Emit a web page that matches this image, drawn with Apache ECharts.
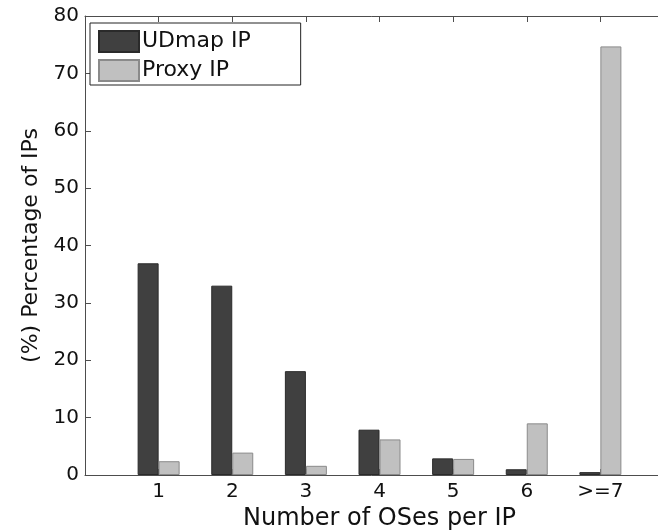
<!DOCTYPE html>
<html>
<head>
<meta charset="utf-8">
<script src="https://cdn.jsdelivr.net/npm/echarts@6/dist/echarts.min.js"></script>
<style>
html,body{margin:0;padding:0;background:#fff;}
#chart{width:658px;height:530px;}
</style>
</head>
<body>
<div id="chart"></div>
<script>
// Data
const categories = ['', '1', '2', '3', '4', '5', '6', '>=7', ''];
const udmapIP = [null, 36.9, 33.0, 18.1, 7.9, 2.9, 1.0, 0.5, null];
const proxyIP = [null, 2.4, 3.9, 1.6, 6.2, 2.8, 9.0, 74.7, null];
const yTicks = [0, 10, 20, 30, 40, 50, 60, 70, 80];

const FONT = 'DejaVu Sans';
const axisColor = '#4d4d4d';

const chart = echarts.init(document.getElementById('chart'), null, {renderer: 'canvas'});
chart.setOption({
  animation: false,
  backgroundColor: '#fff',
  grid: {left: 85, top: 16, width: 589, height: 459, containLabel: false, outerBoundsMode: 'none'},
  legend: {
    left: 90, top: 23,
    orient: 'vertical',
    itemWidth: 40, itemHeight: 21, itemGap: 6,
    padding: [7, 50, 3, 8],
    borderColor: '#222', borderWidth: 1,
    backgroundColor: '#fff',
    icon: 'rect',
    textStyle: {fontFamily: FONT, fontSize: 22, color: '#111', padding: [0, 0, 0, -2]},
    data: ['UDmap IP', 'Proxy IP']
  },
  xAxis: [
    {
      type: 'category', data: categories, boundaryGap: false, position: 'bottom',
      axisLine: {lineStyle: {color: axisColor, width: 1}},
      axisTick: {inside: true, length: 6, lineStyle: {color: axisColor}},
      axisLabel: {interval: 0, margin: 7, fontFamily: FONT, fontSize: 20, color: '#111'},
      name: 'Number of OSes per IP', nameLocation: 'middle', nameGap: 28,
      nameTextStyle: {fontFamily: FONT, fontSize: 24, color: '#111'},
      splitLine: {show: false}
    },
    {
      type: 'category', data: categories, boundaryGap: false, position: 'top',
      axisLine: {lineStyle: {color: axisColor, width: 1}},
      axisTick: {inside: true, length: 6, lineStyle: {color: axisColor}},
      axisLabel: {show: false}, splitLine: {show: false}
    }
  ],
  yAxis: {
    type: 'value', min: 0, max: 80, interval: 10, position: 'left',
    axisLine: {show: true, lineStyle: {color: axisColor, width: 1}},
    axisTick: {show: true, inside: true, length: 6, lineStyle: {color: axisColor}},
    axisLabel: {margin: 6, fontFamily: FONT, fontSize: 20, color: '#111',
      formatter: v => yTicks.indexOf(v) >= 0 ? String(v) : ''},
    splitLine: {show: false},
    name: '(%) Percentage of IPs', nameLocation: 'middle', nameGap: 42, nameRotate: 90,
    nameTextStyle: {fontFamily: FONT, fontSize: 22, color: '#111'}
  },
  series: [
    {
      name: 'UDmap IP', type: 'bar', data: udmapIP, barWidth: 21, barGap: '0%',
      itemStyle: {color: '#404040', borderColor: '#2a2a2a', borderWidth: 1}
    },
    {
      name: 'Proxy IP', type: 'bar', data: proxyIP, barWidth: 21, barGap: '0%',
      itemStyle: {color: '#c0c0c0', borderColor: '#8a8a8a', borderWidth: 1}
    }
  ]
});
</script>
</body>
</html>
